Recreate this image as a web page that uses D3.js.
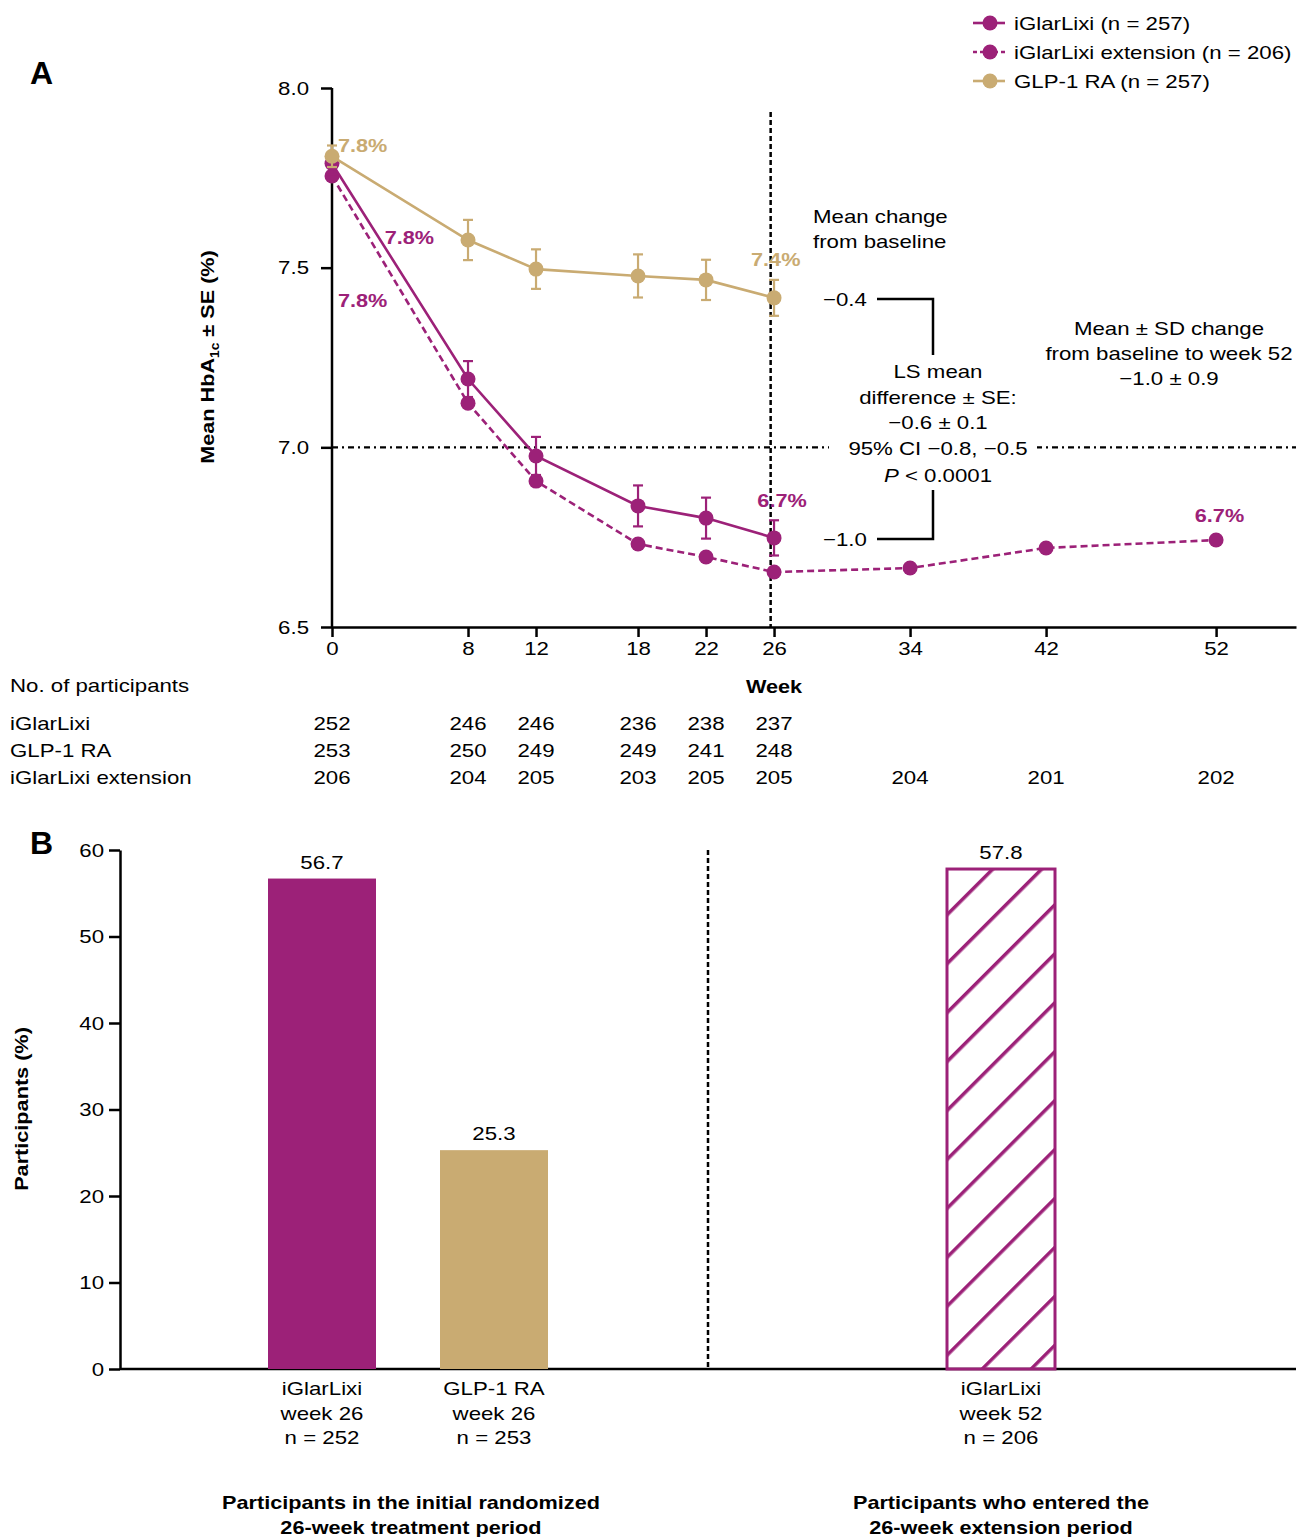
<!DOCTYPE html>
<meta charset="utf-8">
<html>
<head>
<script src="https://d3js.org/d3.v7.min.js"></script>
<style>
  body { margin: 0; background: #fff; }
  text { font-family: Arial, "Liberation Sans", sans-serif; }
</style>
</head>
<body>
<div id="viz"></div>
<script>
// ---- data ----
var lixiWeeks = [0, 8, 12, 18, 22, 26];
var lixiMean = [7.79, 7.19, 6.976, 6.837, 6.803, 6.748];
var lixiSE = [0.03, 0.05, 0.053, 0.057, 0.057, 0.049];

var glpWeeks = [0, 8, 12, 18, 22, 26];
var glpMean = [7.81, 7.577, 7.496, 7.477, 7.466, 7.416];
var glpSE = [0.03, 0.056, 0.055, 0.06, 0.056, 0.05];

var extWeeks = [0, 8, 12, 18, 22, 26, 34, 42, 52];
var extMean = [7.755, 7.123, 6.906, 6.731, 6.695, 6.653, 6.664, 6.72, 6.742];

var weekTicks = [0, 8, 12, 18, 22, 26, 34, 42, 52];
var hbaTicks = [6.5, 7.0, 7.5, 8.0];

var ptRows = ["iGlarLixi", "GLP-1 RA", "iGlarLixi extension"];
var lixiN = [252, 246, 246, 236, 238, 237];
var glpN = [253, 250, 249, 249, 241, 248];
var extN = [206, 204, 205, 203, 205, 205, 204, 201, 202];

var legendNames = ["iGlarLixi (n = 257)", "iGlarLixi extension (n = 206)", "GLP-1 RA (n = 257)"];

var barKeys = ["lixi26", "glp26", "lixi52"];
var barLabels = [["iGlarLixi", "week 26", "n = 252"], ["GLP-1 RA", "week 26", "n = 253"], ["iGlarLixi", "week 52", "n = 206"]];
var barValues = [56.7, 25.3, 57.8];
var pctTicks = [0, 10, 20, 30, 40, 50, 60];

var purple = "#9c2178", gold = "#c9ab72";
var FS = 19;        // base font size
var STRETCH = 1.17; // the source font runs wider than Arial
var STRETCH_BOLD = 1.14;

var svg = d3.select("#viz").append("svg")
  .attr("width", 1298).attr("height", 1537)
  .attr("viewBox", [0, 0, 1298, 1537]);

// ---------- Panel A ----------
var x = d3.scaleLinear().domain([0, 56.7]).range([332, 1296]);
var y = d3.scaleLinear().domain([6.5, 8.0]).range([627, 88]);

svg.append("g")
  .attr("transform", "translate(332,0)")
  .call(d3.axisLeft(y).tickValues(hbaTicks).tickFormat(d3.format(".1f")).tickSize(11).tickSizeOuter(0))
  .call(g => g.select(".domain").attr("stroke-width", 2.5).attr("d", "M0," + y(8.0) + "V" + y(6.5)))
  .call(g => g.selectAll(".tick line").attr("stroke-width", 2.5))
  .call(g => g.selectAll(".tick text").attr("font-size", FS).attr("x", -23).attr("fill", "#000"));

svg.append("g")
  .attr("transform", "translate(0,627)")
  .call(d3.axisBottom(x).tickValues(weekTicks).tickSize(10).tickSizeOuter(0))
  .call(g => g.select(".domain").attr("stroke-width", 2.5))
  .call(g => g.selectAll(".tick line").attr("stroke-width", 2.5))
  .call(g => g.selectAll(".tick text").attr("font-size", FS).attr("y", 15).attr("fill", "#000"));

// reference lines
svg.append("line")
  .attr("x1", x(0)).attr("x2", x(56.7)).attr("y1", y(7.0)).attr("y2", y(7.0))
  .attr("stroke", "#000").attr("stroke-width", 2.2).attr("stroke-dasharray", "6,4,2,4");
svg.append("line")
  .attr("x1", x(25.8)).attr("x2", x(25.8)).attr("y1", 112).attr("y2", y(6.5))
  .attr("stroke", "#000").attr("stroke-width", 2.5).attr("stroke-dasharray", "5,3");

// series
function drawSeries(weeks, means, se, color, dash) {
  var pts = weeks.map((w, i) => ({ w: w, m: means[i], s: se ? se[i] : 0 }));
  var g = svg.append("g");
  g.append("path")
    .datum(pts)
    .attr("fill", "none").attr("stroke", color).attr("stroke-width", 2.6)
    .attr("stroke-dasharray", dash || null)
    .attr("d", d3.line().x(d => x(d.w)).y(d => y(d.m)));
  if (se) {
    var eb = g.selectAll(".eb").data(pts).join("g").attr("stroke", color).attr("stroke-width", 2.2);
    eb.append("line").attr("x1", d => x(d.w)).attr("x2", d => x(d.w))
      .attr("y1", d => y(d.m + d.s)).attr("y2", d => y(d.m - d.s));
    eb.append("line").attr("x1", d => x(d.w) - 5).attr("x2", d => x(d.w) + 5)
      .attr("y1", d => y(d.m + d.s)).attr("y2", d => y(d.m + d.s));
    eb.append("line").attr("x1", d => x(d.w) - 5).attr("x2", d => x(d.w) + 5)
      .attr("y1", d => y(d.m - d.s)).attr("y2", d => y(d.m - d.s));
  }
  g.selectAll("circle").data(pts).join("circle")
    .attr("cx", d => x(d.w)).attr("cy", d => y(d.m)).attr("r", 7.5).attr("fill", color);
}
drawSeries(extWeeks, extMean, null, purple, "7,4");
drawSeries(lixiWeeks, lixiMean, lixiSE, purple, null);
drawSeries(glpWeeks, glpMean, glpSE, gold, null);

// value labels (placed at the level of the text centre)
function valLabel(wk, lv, txt, color, anchor) {
  svg.append("text").attr("x", x(wk)).attr("y", y(lv) + 7).attr("fill", color)
    .attr("font-size", FS).attr("font-weight", "bold").attr("text-anchor", anchor || "start").text(txt);
}
valLabel(0.35, 7.84, "7.8%", gold);
valLabel(3.1, 7.585, "7.8%", purple);
valLabel(0.35, 7.41, "7.8%", purple);
valLabel(26.1, 7.524, "7.4%", gold, "middle");
valLabel(26.47, 6.853, "6.7%", purple, "middle");
valLabel(52.2, 6.812, "6.7%", purple, "middle");

// annotations
function textLines(px, py, lines, anchor, lh, size) {
  var t = svg.append("text").attr("x", px).attr("y", py).attr("font-size", size || FS)
    .attr("text-anchor", anchor).attr("fill", "#000");
  lines.forEach((l, i) => {
    t.append("tspan").attr("x", px).attr("dy", i ? lh : 0).text(l);
  });
  return t;
}
textLines(813, 223, ["Mean change", "from baseline"], "start", 25);
textLines(1169, 335, ["Mean ± SD change", "from baseline to week 52", "\u22121.0 ± 0.9"], "middle", 25);

svg.append("rect").attr("x", 829).attr("y", 432).attr("width", 208).attr("height", 26).attr("fill", "#fff");
textLines(938, 378, ["LS mean", "difference ± SE:", "\u22120.6 ± 0.1", "95% CI \u22120.8, \u22120.5"], "middle", 25.5);
var pt = svg.append("text").attr("x", 938).attr("y", 482).attr("font-size", FS).attr("text-anchor", "middle");
pt.append("tspan").attr("font-style", "italic").text("P");
pt.append("tspan").text(" < 0.0001");

svg.append("text").attr("x", 823).attr("y", 306).attr("font-size", FS).text("\u22120.4");
svg.append("text").attr("x", 823).attr("y", 546).attr("font-size", FS).text("\u22121.0");
svg.append("path").attr("fill", "none").attr("stroke", "#000").attr("stroke-width", 2.5)
  .attr("d", "M877,299H933V355");
svg.append("path").attr("fill", "none").attr("stroke", "#000").attr("stroke-width", 2.5)
  .attr("d", "M877,539H933V490");

// axis titles
svg.append("text").attr("transform", "translate(214,357) rotate(-90)").attr("text-anchor", "middle")
  .attr("font-size", FS).attr("font-weight", "bold")
  .call(t => {
    t.append("tspan").text("Mean HbA");
    t.append("tspan").attr("font-size", 12).attr("dy", 5).text("1c");
    t.append("tspan").attr("dy", -5).text(" ± SE (%)");
  });
svg.append("text").attr("x", x(26)).attr("y", 693).attr("text-anchor", "middle")
  .attr("font-size", FS).attr("font-weight", "bold").text("Week");

svg.append("text").attr("x", 30).attr("y", 84).attr("font-size", 32).attr("font-weight", "bold").text("A");
svg.append("text").attr("x", 30).attr("y", 854).attr("font-size", 32).attr("font-weight", "bold").text("B");

// participants table
svg.append("text").attr("x", 10).attr("y", 692).attr("font-size", FS).text("No. of participants");
var ptData = [[lixiWeeks, lixiN], [glpWeeks, glpN], [extWeeks, extN]];
ptRows.forEach((r, i) => {
  var ry = 730 + i * 27;
  svg.append("text").attr("x", 10).attr("y", ry).attr("font-size", FS).text(r);
  svg.append("g").selectAll("text").data(ptData[i][1]).join("text")
    .attr("x", (d, j) => x(ptData[i][0][j])).attr("y", ry)
    .attr("text-anchor", "middle").attr("font-size", FS).text(d => d);
});

// legend
var legColors = [purple, purple, gold], legDash = [null, "4,3", null];
legendNames.forEach((n, i) => {
  var ly = 23 + i * 29;
  svg.append("line").attr("x1", 973).attr("x2", 1005).attr("y1", ly).attr("y2", ly)
    .attr("stroke", legColors[i]).attr("stroke-width", 2.6).attr("stroke-dasharray", legDash[i]);
  svg.append("circle").attr("cx", 990).attr("cy", ly).attr("r", 7.5).attr("fill", legColors[i]);
  svg.append("text").attr("x", 1014).attr("y", ly + 7).attr("font-size", FS).text(n);
});

// ---------- Panel B ----------
var yB = d3.scaleLinear().domain([0, 60]).range([1369, 850]);
var xB = d3.scaleOrdinal().domain(barKeys).range([322, 494, 1001]);
var bw = 108;

var defs = svg.append("defs");
var pat = defs.append("pattern").attr("id", "hatch").attr("patternUnits", "userSpaceOnUse")
  .attr("width", 34.6).attr("height", 34.6).attr("patternTransform", "rotate(45)");
pat.append("line").attr("x1", 0).attr("x2", 0).attr("y1", 0).attr("y2", 34.6)
  .attr("stroke", purple).attr("stroke-width", 7);

svg.append("g")
  .attr("transform", "translate(120,0)")
  .call(d3.axisLeft(yB).tickValues(pctTicks).tickSize(11).tickSizeOuter(0))
  .call(g => g.select(".domain").attr("stroke-width", 2.5))
  .call(g => g.selectAll(".tick line").attr("stroke-width", 2.5))
  .call(g => g.selectAll(".tick text").attr("font-size", FS).attr("x", -16).attr("fill", "#000"));
svg.append("line").attr("x1", 120).attr("x2", 1296).attr("y1", yB(0)).attr("y2", yB(0))
  .attr("stroke", "#000").attr("stroke-width", 2.5);

svg.append("line").attr("x1", 708).attr("x2", 708).attr("y1", yB(60)).attr("y2", yB(0))
  .attr("stroke", "#000").attr("stroke-width", 2.5).attr("stroke-dasharray", "5,3");

var barFill = [purple, gold, "url(#hatch)"];
svg.append("g").selectAll("rect").data(barValues).join("rect")
  .attr("x", (d, i) => xB(barKeys[i]) - bw / 2)
  .attr("y", d => yB(d))
  .attr("width", bw)
  .attr("height", d => yB(0) - yB(d))
  .attr("fill", (d, i) => barFill[i])
  .attr("stroke", (d, i) => i === 2 ? purple : "none")
  .attr("stroke-width", 3);

svg.append("g").selectAll("text").data(barValues).join("text")
  .attr("x", (d, i) => xB(barKeys[i])).attr("y", d => yB(d) - 10)
  .attr("text-anchor", "middle").attr("font-size", FS).text(d => d.toFixed(1));

barLabels.forEach((lines, i) => {
  textLines(xB(barKeys[i]), 1395, lines, "middle", 24.5);
});

svg.append("text").attr("transform", "translate(28,1109) rotate(-90)").attr("text-anchor", "middle")
  .attr("font-size", FS).attr("font-weight", "bold").text("Participants (%)");

textLines(411, 1509, ["Participants in the initial randomized", "26-week treatment period"], "middle", 25)
  .attr("font-weight", "bold");
textLines(1001, 1509, ["Participants who entered the", "26-week extension period"], "middle", 25)
  .attr("font-weight", "bold");

// widen every text run to match the broader source typeface
svg.selectAll("text").each(function () {
  if (this.getAttribute("font-size") === "32") return;
  var k = this.getAttribute("font-weight") === "bold" ? STRETCH_BOLD : STRETCH;
  var lines = Array.from(this.querySelectorAll("tspan[x]"));
  var targets = lines.length ? lines : [this];
  targets.forEach(n => {
    var L = n.getComputedTextLength();
    n.setAttribute("textLength", L * k);
    n.setAttribute("lengthAdjust", "spacingAndGlyphs");
  });
});
</script>
</body>
</html>
